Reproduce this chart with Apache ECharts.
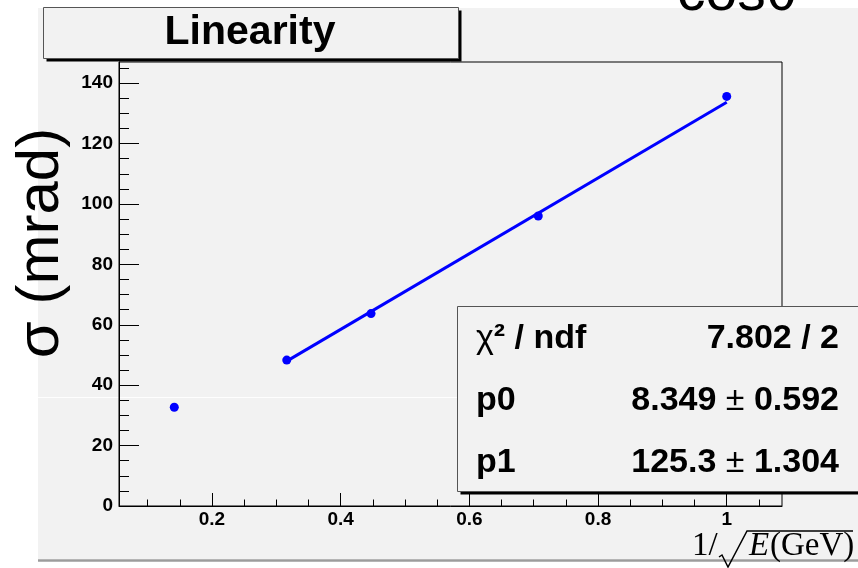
<!DOCTYPE html>
<html>
<head>
<meta charset="utf-8">
<script src="https://cdn.jsdelivr.net/npm/echarts@6/dist/echarts.min.js"></script>
<style>
  html, body { margin: 0; padding: 0; background: #ffffff; }
  #chart { width: 858px; height: 568px; }
</style>
</head>
<body>
<div id="chart"></div>
<script>
// Measured points: resolution versus 1/sqrt(E)
const invSqrtE = [0.1414, 0.3162, 0.4472, 0.7071, 1.0];
const sigmaMrad = [32.7, 48.3, 63.7, 96.0, 135.6];

// Linear fit p0 + p1 * x and its statistics
const fitP0 = 8.349, fitP0Err = 0.592;
const fitP1 = 125.3, fitP1Err = 1.304;
const chi2 = 7.802, ndf = 2;
const fitRange = [0.3162, 1.0];

// Axis ranges and tick positions
const xRange = [0.0555, 1.0859];
const yRange = [0, 147];
const xMajorTicks = [0.2, 0.4, 0.6, 0.8, 1.0];
const xMinorTicks = [0.1, 0.15, 0.25, 0.3, 0.35, 0.45, 0.5, 0.55, 0.65, 0.7, 0.75, 0.85, 0.9, 0.95, 1.05];
const yMajorTicks = [0, 20, 40, 60, 80, 100, 120, 140];
const yMinorTicks = [5, 10, 15, 25, 30, 35, 45, 50, 55, 65, 70, 75, 85, 90, 95, 105, 110, 115, 125, 130, 135, 145];

const SANS = '"Liberation Sans", Arial, Helvetica, sans-serif';
const SERIF = '"Liberation Serif", "Times New Roman", serif';
const PAD = '#f2f2f2';

const points = invSqrtE.map((x, i) => [x, sigmaMrad[i]]);
const fitLine = fitRange.map(x => [x, fitP0 + fitP1 * x]);

const chart = echarts.init(document.getElementById('chart'), null, { renderer: 'canvas' });

const tickLabel = { color: '#000', fontFamily: SANS, fontWeight: 'bold', fontSize: 19 };

const option = {
  backgroundColor: '#ffffff',
  animation: false,
  grid: {
    left: 119, top: 62, right: 76, bottom: 62,
    show: true, borderColor: '#000', borderWidth: 1, backgroundColor: 'transparent'
  },
  xAxis: [
    {
      type: 'value', min: xRange[0], max: xRange[1], position: 'bottom',
      splitLine: { show: false },
      axisLine: { lineStyle: { color: '#000', width: 1 } },
      axisTick: { inside: true, length: 13, customValues: xMajorTicks, lineStyle: { color: '#000' } },
      axisLabel: Object.assign({ customValues: xMajorTicks, margin: 4,
        formatter: v => String(Math.round(v * 10) / 10) }, tickLabel)
    },
    {
      type: 'value', min: xRange[0], max: xRange[1], position: 'bottom',
      splitLine: { show: false },
      axisLine: { show: false },
      axisTick: { inside: true, length: 6.5, customValues: xMinorTicks, lineStyle: { color: '#000' } },
      axisLabel: { show: false }
    }
  ],
  yAxis: [
    {
      type: 'value', min: yRange[0], max: yRange[1], position: 'left',
      splitLine: { show: false },
      axisLine: { show: true, lineStyle: { color: '#000', width: 1 } },
      axisTick: { show: true, inside: true, length: 20, customValues: yMajorTicks, lineStyle: { color: '#000' } },
      axisLabel: Object.assign({ customValues: yMajorTicks, margin: 6 }, tickLabel)
    },
    {
      type: 'value', min: yRange[0], max: yRange[1], position: 'left',
      splitLine: { show: false },
      axisLine: { show: false },
      axisTick: { show: true, inside: true, length: 10, customValues: yMinorTicks, lineStyle: { color: '#000' } },
      axisLabel: { show: false }
    }
  ],
  series: [
    {
      type: 'scatter', xAxisIndex: 0, yAxisIndex: 0,
      data: points, symbol: 'circle', symbolSize: 9,
      itemStyle: { color: '#0000ff', opacity: 1 }, z: 3
    },
    {
      type: 'line', xAxisIndex: 0, yAxisIndex: 0,
      data: fitLine, showSymbol: false, symbol: 'none',
      lineStyle: { color: '#0000ff', width: 3 }, z: 4
    }
  ],
  graphic: [
    // pad background with its lower bevel
    { type: 'rect', z: -10, shape: { x: 38, y: 8, width: 820, height: 551 }, style: { fill: PAD } },
    { type: 'line', z: -9, shape: { x1: 38, y1: 560.5, x2: 858, y2: 560.5 }, style: { stroke: '#9c9c9c', lineWidth: 2.5 } },
    { type: 'line', z: -9, shape: { x1: 38, y1: 397.5, x2: 858, y2: 397.5 }, style: { stroke: '#ffffff', lineWidth: 1, opacity: 0.9 } },

    // heading cut at the top edge
    { type: 'text', z: 20, x: 677, y: -6,
      style: { text: 'cosθ', fill: '#000', fontFamily: SANS, fontSize: 57, align: 'left', verticalAlign: 'middle' } },

    // title box
    { type: 'rect', z: 10, shape: { x: 46.5, y: 10.5, width: 415, height: 51 }, style: { fill: '#000' } },
    { type: 'rect', z: 11, shape: { x: 43.5, y: 7.5, width: 415, height: 51 }, style: { fill: PAD, stroke: '#555', lineWidth: 1 } },
    { type: 'text', z: 12, x: 250, y: 32.5,
      style: { text: 'Linearity', fill: '#000', fontFamily: SANS, fontWeight: 'bold', fontSize: 41, align: 'center', verticalAlign: 'middle' } },

    // y axis title
    { type: 'text', z: 12, x: 41, y: 243, rotation: Math.PI / 2,
      style: { text: 'σ (mrad)', fill: '#000', fontFamily: SANS, fontSize: 60, align: 'center', verticalAlign: 'middle' } },

    // x axis title: 1/sqrt(E(GeV))
    { type: 'text', z: 12, x: 692, y: 546,
      style: { text: '1/', fill: '#000', fontFamily: SERIF, fontSize: 33, align: 'left', verticalAlign: 'middle' } },
    { type: 'polyline', z: 12, shape: { points: [[719, 557], [722, 555], [728, 567], [747, 531], [853, 531]] },
      style: { stroke: '#000', lineWidth: 1.5, fill: null } },
    { type: 'text', z: 12, x: 749, y: 546,
      style: { text: 'E', fill: '#000', fontFamily: SERIF, fontStyle: 'italic', fontSize: 33, align: 'left', verticalAlign: 'middle' } },
    { type: 'text', z: 12, x: 770, y: 546,
      style: { text: '(GeV)', fill: '#000', fontFamily: SERIF, fontSize: 33, align: 'left', verticalAlign: 'middle' } },

    // fit statistics box
    { type: 'rect', z: 10, shape: { x: 460.5, y: 309.5, width: 420, height: 185 }, style: { fill: '#000' } },
    { type: 'rect', z: 11, shape: { x: 457.5, y: 306.5, width: 420, height: 185 }, style: { fill: PAD, stroke: '#555', lineWidth: 1 } },
    { type: 'text', z: 12, x: 476, y: 339,
      style: { text: '{r|χ}{b|² / ndf}', align: 'left', verticalAlign: 'middle',
        rich: { r: { fontFamily: SANS, fontSize: 34, fill: '#000' }, b: { fontFamily: SANS, fontWeight: 'bold', fontSize: 34, fill: '#000' } } } },
    { type: 'text', z: 12, x: 839, y: 339,
      style: { text: chi2.toFixed(3) + ' / ' + ndf, fill: '#000', fontFamily: SANS, fontWeight: 'bold', fontSize: 34, align: 'right', verticalAlign: 'middle' } },
    { type: 'text', z: 12, x: 476, y: 401,
      style: { text: 'p0', fill: '#000', fontFamily: SANS, fontWeight: 'bold', fontSize: 34, align: 'left', verticalAlign: 'middle' } },
    { type: 'text', z: 12, x: 839, y: 401,
      style: { text: '{b|' + fitP0.toFixed(3) + ' }{r|±}{b| ' + fitP0Err.toFixed(3) + '}', align: 'right', verticalAlign: 'middle',
        rich: { r: { fontFamily: SANS, fontSize: 34, fill: '#000' }, b: { fontFamily: SANS, fontWeight: 'bold', fontSize: 34, fill: '#000' } } } },
    { type: 'text', z: 12, x: 476, y: 462.5,
      style: { text: 'p1', fill: '#000', fontFamily: SANS, fontWeight: 'bold', fontSize: 34, align: 'left', verticalAlign: 'middle' } },
    { type: 'text', z: 12, x: 839, y: 462.5,
      style: { text: '{b|' + fitP1.toFixed(1) + ' }{r|±}{b| ' + fitP1Err.toFixed(3) + '}', align: 'right', verticalAlign: 'middle',
        rich: { r: { fontFamily: SANS, fontSize: 34, fill: '#000' }, b: { fontFamily: SANS, fontWeight: 'bold', fontSize: 34, fill: '#000' } } } }
  ]
};

chart.setOption(option);
</script>
</body>
</html>
